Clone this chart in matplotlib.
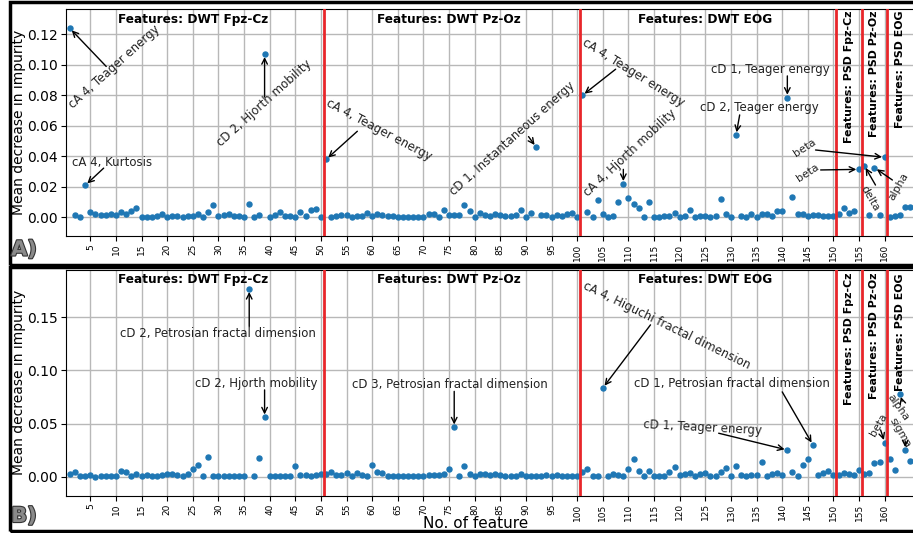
import matplotlib
matplotlib.use("Agg")
import matplotlib.pyplot as plt
import matplotlib.patheffects as pe
from matplotlib.patches import Rectangle
from matplotlib.transforms import blended_transform_factory
import numpy as np

# mean decrease in impurity per feature (features 1..165)
imp_a = [
    0.124, 0.0015, 0.0005, 0.021, 0.0035, 0.002, 0.0015, 0.0013, 0.002, 0.0018,
    0.0033, 0.0022, 0.004, 0.006, 0.0004, 0.0004, 0.0004, 0.0007, 0.0024, 0.0004,
    0.001, 0.001, 0.0004, 0.0009, 0.0009, 0.0024, 0.0004, 0.0035, 0.0083, 0.0007,
    0.0013, 0.0024, 0.0007, 0.001, 0.0004, 0.0088, 0.0004, 0.0013, 0.107, 0.0004,
    0.0015, 0.0035, 0.0009, 0.0009, 0.0004, 0.0035, 0.0009, 0.0048, 0.0055, 0.0004,
    0.038, 0.0004, 0.0009, 0.0015, 0.0013, 0.0002, 0.0009, 0.0009, 0.0031, 0.0009,
    0.0024, 0.0015, 0.0007, 0.0007, 0.0002, 0.0002, 0.0004, 0.0004, 0.0004, 0.0004,
    0.0022, 0.0024, 0.0004, 0.0046, 0.0013, 0.0013, 0.0013, 0.0083, 0.0044, 0.0004,
    0.0031, 0.0018, 0.0009, 0.0024, 0.0015, 0.0011, 0.0007, 0.0015, 0.0048, 0.0004,
    0.0031, 0.046, 0.0013, 0.0018, 0.0004, 0.0013, 0.0011, 0.0024, 0.0031, 0.0004,
    0.080, 0.0035, 0.0004, 0.0114, 0.0024, 0.0004, 0.0009, 0.0103, 0.022, 0.0127,
    0.0088, 0.0059, 0.0004, 0.0103, 0.0004, 0.0004, 0.0009, 0.0009, 0.0031, 0.0004,
    0.0009, 0.0048, 0.0004, 0.0009, 0.0009, 0.0004, 0.0009, 0.012, 0.0022, 0.0004,
    0.054, 0.0011, 0.0004, 0.002, 0.0004, 0.002, 0.002, 0.0009, 0.0042, 0.0042,
    0.0786, 0.0136, 0.002, 0.002, 0.0011, 0.0013, 0.0013, 0.0011, 0.0009, 0.0009,
    0.0024, 0.006, 0.0026, 0.0044, 0.0315, 0.034, 0.0015, 0.0326, 0.0015, 0.0394,
    0.0004, 0.0009, 0.0013, 0.0066, 0.0066,
]

imp_b = [
    0.0022, 0.004, 0.001, 0.0006, 0.0016, 0.0, 0.0006, 0.0006, 0.0006, 0.0006,
    0.0056, 0.004, 0.0006, 0.0028, 0.0006, 0.0019, 0.0006, 0.0006, 0.0016, 0.0028,
    0.0028, 0.0019, 0.0006, 0.0022, 0.0069, 0.0113, 0.001, 0.0188, 0.001, 0.001,
    0.001, 0.001, 0.001, 0.001, 0.001, 0.1765, 0.0006, 0.0176, 0.0559, 0.0006,
    0.0006, 0.0006, 0.0006, 0.0006, 0.0097, 0.0016, 0.0013, 0.0006, 0.0013, 0.0022,
    0.0022, 0.0047, 0.0016, 0.0016, 0.0031, 0.0006, 0.0038, 0.0016, 0.001, 0.011,
    0.0047, 0.0031, 0.001, 0.001, 0.0006, 0.001, 0.001, 0.001, 0.001, 0.001,
    0.0016, 0.0016, 0.0016, 0.0022, 0.0069, 0.0465, 0.0006, 0.0104, 0.0025, 0.0006,
    0.0028, 0.0028, 0.0016, 0.0028, 0.0016, 0.001, 0.0006, 0.001, 0.0022, 0.001,
    0.001, 0.001, 0.001, 0.0016, 0.001, 0.0016, 0.001, 0.001, 0.001, 0.001,
    0.004, 0.0072, 0.001, 0.001, 0.0835, 0.0006, 0.0022, 0.0016, 0.001, 0.0072,
    0.0163, 0.0053, 0.0006, 0.0053, 0.001, 0.001, 0.001, 0.0047, 0.0094, 0.0016,
    0.0022, 0.0038, 0.001, 0.0022, 0.0038, 0.001, 0.001, 0.0041, 0.0078, 0.001,
    0.010, 0.0016, 0.001, 0.0016, 0.0016, 0.0141, 0.001, 0.0022, 0.0038, 0.0016,
    0.0251, 0.0047, 0.001, 0.011, 0.0163, 0.0298, 0.0016, 0.0031, 0.0057, 0.0016,
    0.0016, 0.0031, 0.0022, 0.0016, 0.0063, 0.0022, 0.0031, 0.0132, 0.0141, 0.032,
    0.0166, 0.0063, 0.0776, 0.0251, 0.0148,
]

features = np.arange(1, len(imp_a) + 1)
group_edges = [50.5, 100.5, 150.5, 155.5, 160.5]
dwt_titles = ["Features: DWT Fpz-Cz", "Features: DWT Pz-Oz", "Features: DWT EOG"]
dwt_centers = [25, 75, 125]
psd_titles = ["Features: PSD Fpz-Cz", "Features: PSD Pz-Oz", "Features: PSD EOG"]
psd_centers = [153, 158, 163]

# (text, feature, text position, rotation, arrow start)
notes_a = [
    ("cA 4, Teager energy", 1, (9.6, 0.0985), 42, (8.1, 0.099)),
    ("cA 4, Kurtosis", 4, (9.3, 0.0363), 0, (7.6, 0.0323)),
    ("cD 2, Hjorth mobility", 39, (39.0, 0.075), 42, (39.0, 0.079)),
    ("cA 4, Teager energy", 51, (61.3, 0.0577), -28, (57.1, 0.0565)),
    ("cD 1, Instantaneous energy", 92, (87.3, 0.0514), 42, (90.5, 0.053)),
    ("cA 4, Teager energy", 101, (110.9, 0.0948), -32, (107.5, 0.0972)),
    ("cA 4, Hjorth mobility", 109, (110.2, 0.0426), 43, (109.0, 0.0315)),
    ("cD 1, Teager energy", 141, (137.7, 0.0968), 0, (141.0, 0.0928)),
    ("cD 2, Teager energy", 131, (135.6, 0.0718), 0, (131.7, 0.0672)),
    ("beta", 160, (144.3, 0.0459), 33, (146.5, 0.0442)),
    ("beta", 155, (145.0, 0.0294), 33, (147.5, 0.0311)),
    ("delta", 156, (157.2, 0.0127), -60, (158.2, 0.0212)),
    ("alpha", 158, (162.8, 0.0206), 60, (161.5, 0.0245)),
]

notes_b = [
    ("cD 2, Petrosian fractal dimension", 36, (29.9, 0.1344), 0, (36.0, 0.1413)),
    ("cD 2, Hjorth mobility", 39, (37.3, 0.0873), 0, (39.0, 0.0817)),
    ("cD 3, Petrosian fractal dimension", 76, (75.2, 0.0867), 0, (76.0, 0.0803)),
    ("cA 4, Higuchi fractal dimension", 105, (117.4, 0.142), -26, (114.3, 0.1429)),
    ("cD 1, Petrosian fractal dimension", 146, (130.1, 0.0873), 0, (140.0, 0.0798)),
    ("cD 1, Teager energy", 141, (124.5, 0.0463), -3, (127.6, 0.0409)),
    ("beta", 160, (158.8, 0.0487), 60, (159.2, 0.044)),
    ("alpha", 163, (162.6, 0.0647), -55, (163.4, 0.071)),
    ("sigma", 164, (162.9, 0.0412), -60, (164.0, 0.0336)),
]

short_words = {"beta", "delta", "alpha", "sigma"}


def draw_panel(ax, values, notes, ylim, yticks, title_y, psd_y):
    ax.set_axisbelow(True)
    ax.grid(True, color="#b8b8b8", linewidth=1.0)
    ax.plot(features, values, linestyle="", marker="o", markersize=3.6,
            color="#1f77b4", zorder=3)
    for x in group_edges:
        ax.axvline(x, color="#e8262a", linewidth=2.0, zorder=4)
    ax.set_xlim(0.2, 166)
    ax.set_ylim(*ylim)
    ax.set_yticks(yticks)
    ax.set_xticks(np.arange(5, 161, 5))
    ax.tick_params(axis="x", labelrotation=90, labelsize=6.5, length=3.5, pad=2)
    ax.tick_params(axis="y", labelsize=10, length=3.5, pad=2)
    ax.set_ylabel("Mean decrease in impurity", fontsize=10)
    ax.yaxis.set_label_coords(-0.047, 0.5)

    tr = blended_transform_factory(ax.transData, ax.transAxes)
    for name, cx in zip(dwt_titles, dwt_centers):
        ax.text(cx, title_y, name, transform=tr, ha="center", va="center",
                fontsize=8.7, fontweight="bold")
    for name, cx in zip(psd_titles, psd_centers):
        ax.text(cx, psd_y, name, transform=tr, ha="center", va="top",
                rotation=90, fontsize=7.9, fontweight="bold")

    for label, feat, txy, rot, start in notes:
        size = 7.8 if label in short_words else 8.5
        ax.text(txy[0], txy[1], label, ha="center", va="center", rotation=rot,
                rotation_mode="anchor", fontsize=size, color="#222222", zorder=5)
        ax.annotate("", xy=(feat, values[feat - 1]), xytext=start,
                    arrowprops=dict(arrowstyle="->", color="black", lw=1.0,
                                    shrinkA=0, shrinkB=2), zorder=5)


fig = plt.figure(figsize=(9.13, 5.33), dpi=100)
ax_a = fig.add_axes([0.072, 0.557, 0.9307, 0.427])
ax_b = fig.add_axes([0.072, 0.070, 0.9307, 0.4234])

draw_panel(ax_a, imp_a, notes_a, (-0.0123, 0.137),
           [0.0, 0.02, 0.04, 0.06, 0.08, 0.10, 0.12], 0.953, 0.993)
draw_panel(ax_b, imp_b, notes_b, (-0.0179, 0.1945),
           [0.0, 0.05, 0.10, 0.15], 0.959, 0.987)
ax_b.set_xlabel("No. of feature", fontsize=11)
ax_b.xaxis.set_label_coords(0.482, -0.088)

for ax in (ax_a, ax_b):
    ax.spines["right"].set_visible(False)

# panel frames and letters
for y0, h in [(0.5028, 0.4934), (0.00375, 0.4944)]:
    fig.add_artist(Rectangle((0.011, y0), 1.1, h, transform=fig.transFigure,
                             fill=False, edgecolor="black", linewidth=2.5))

for txt, y in [("A)", 1 - 249.5 / 533), ("B)", 1 - 516 / 533)]:
    fig.text(24 / 913, y, txt, ha="center", va="center", fontsize=15,
             fontweight="bold", color="#8a8a8a",
             path_effects=[pe.withStroke(linewidth=1.6, foreground="#333333")])

fig.savefig("out.png", dpi=100)
